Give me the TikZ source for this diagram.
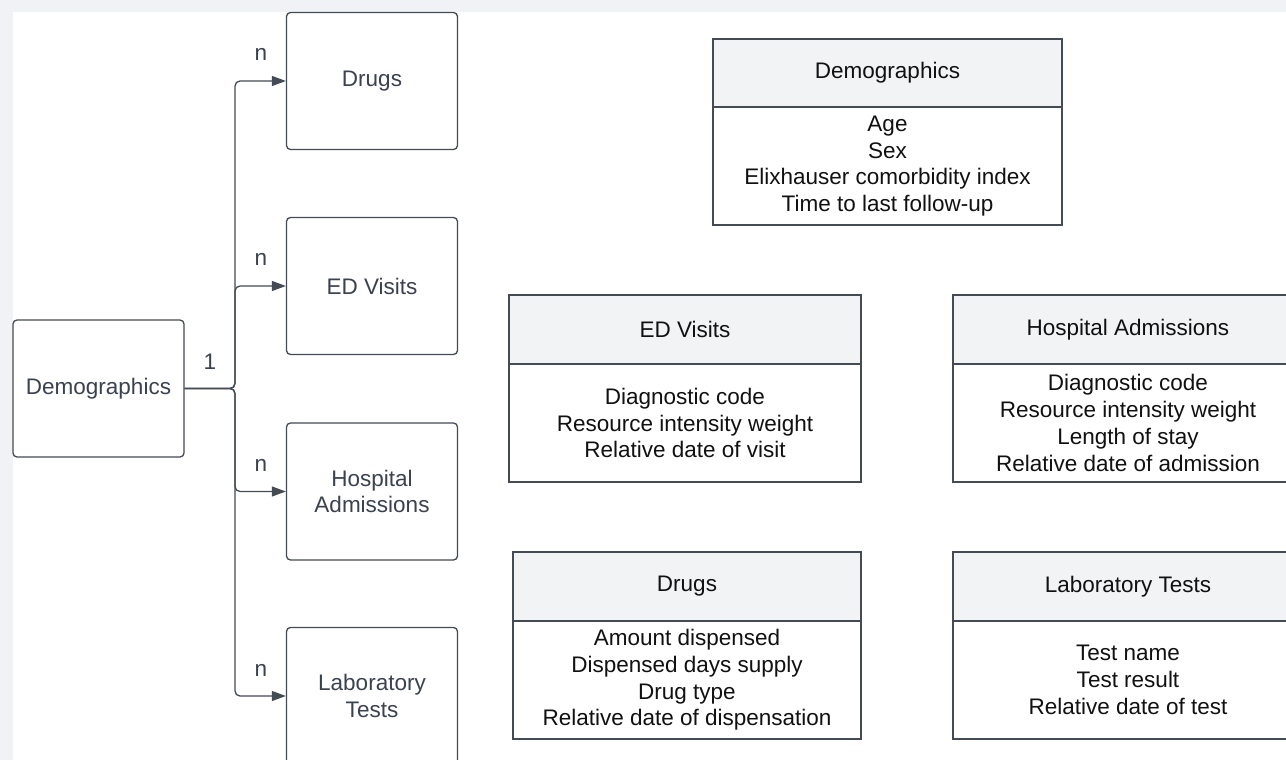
\documentclass[tikz,border=0pt]{standalone}
\usepackage{fontspec}
\setmainfont{Liberation Sans}
\usetikzlibrary{arrows.meta}
\definecolor{edgec}{HTML}{454B54}
\definecolor{slate}{HTML}{3A4150}
\definecolor{hdr}{HTML}{F2F3F5}
\definecolor{bgpale}{HTML}{F1F2F6}
\definecolor{ink}{HTML}{111111}
\tikzset{
  txt/.style={font=\fontsize{22.5}{26.7}\selectfont},
  ent/.style={txt, draw=edgec, line width=1.3pt, rounded corners=4pt, fill=white,
    minimum width=171pt, minimum height=137pt, inner sep=0pt, align=center, text=slate},
  thead/.style={txt, draw=edgec, line width=1.3pt, fill=hdr, inner sep=0pt, text=ink, align=center},
  tbody/.style={txt, draw=edgec, line width=1.3pt, fill=white, inner sep=0pt, text=ink, align=center},
  conn/.style={draw=edgec, line width=1.3pt, rounded corners=5pt, -{Triangle[length=14pt,width=10pt]}},
  card/.style={txt, text=slate, inner sep=0pt}
}
\begin{document}
\begin{tikzpicture}[x=1pt, y=-1pt]
\useasboundingbox (0,0) rectangle (1286,760);
\clip (0,0) rectangle (1286,760);
\fill[bgpale] (0,0) rectangle (1286,760);
\fill[white] (13,12) rectangle (1286,760);

% left entity boxes
\node[ent] (demo) at (98.5,388.5) {Demographics};
\node[ent] (drugs) at (372,81) {Drugs};
\node[ent] (ed) at (372,286) {ED Visits};
\node[ent] (hosp) at (372,491.5) {Hospital\\Admissions};
\node[ent] (lab) at (372,696) {Laboratory\\Tests};

% connectors
\coordinate (trunk) at (235,388.5);
\draw[conn] (demo.east) -- (trunk) |- (drugs.west);
\draw[conn] (demo.east) -- (trunk) |- (ed.west);
\draw[conn] (demo.east) -- (trunk) |- (hosp.west);
\draw[conn] (demo.east) -- (trunk) |- (lab.west);

% cardinality labels
\node[card] (c1) at (210,362) {1};
\node[card] (n1) at (261,54) {n};
\node[card] (n2) at (261,259) {n};
\node[card] (n3) at (261,465) {n};
\node[card] (n4) at (261,670) {n};

% tables
\node[thead, minimum width=349pt, minimum height=68pt] (tdemoh) at (887.5,73) {Demographics};
\node[tbody, minimum width=349pt, minimum height=118pt] (tdemob) at (887.5,166)
  {Age\\Sex\\Elixhauser comorbidity index\\Time to last follow-up};

\node[thead, minimum width=352pt, minimum height=69pt] (tedh) at (685,329.5) {ED Visits};
\node[tbody, minimum width=352pt, minimum height=118pt] (tedb) at (685,423)
  {Diagnostic code\\Resource intensity weight\\Relative date of visit};

\node[thead, minimum width=350pt, minimum height=69pt] (thosph) at (1128,329.5) {Hospital Admissions};
\node[tbody, minimum width=350pt, minimum height=118pt] (thospb) at (1128,423)
  {Diagnostic code\\Resource intensity weight\\Length of stay\\Relative date of admission};

\node[thead, minimum width=348pt, minimum height=69pt] (tdrugh) at (687,586.5) {Drugs};
\node[tbody, minimum width=348pt, minimum height=118pt] (tdrugb) at (687,680)
  {Amount dispensed\\Dispensed days supply\\Drug type\\Relative date of dispensation};

\node[thead, minimum width=350pt, minimum height=69pt] (tlabh) at (1128,586.5) {Laboratory Tests};
\node[tbody, minimum width=350pt, minimum height=118pt] (tlabb) at (1128,680)
  {Test name\\Test result\\Relative date of test};
\end{tikzpicture}
\end{document}
